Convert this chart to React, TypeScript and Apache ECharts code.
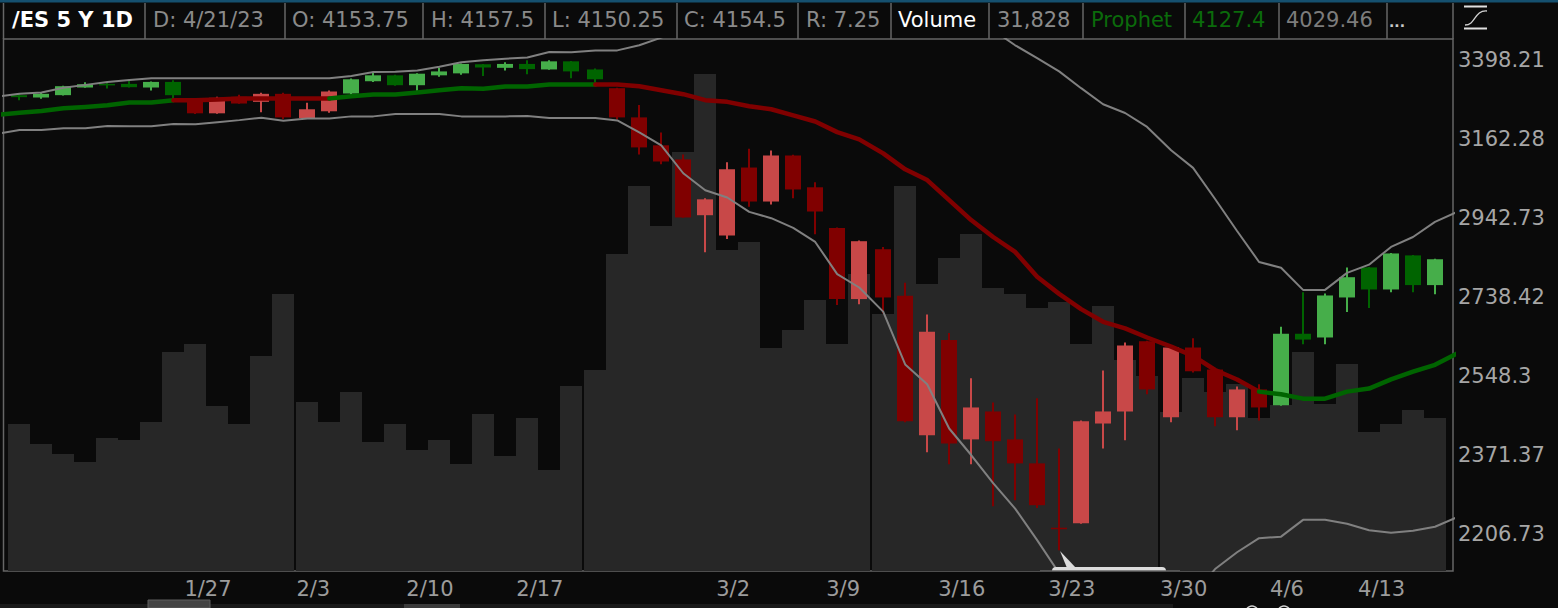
import React, { useEffect, useRef } from "react";
import * as echarts from "echarts";

// Daily candles (bar 0 = oldest)
const opens = [3292,3285,3292,3315,3326,3326,3315,3332,3277,3238,3287,3272,3296,3224,3244,3297,3334,3352,3322,3352,3358,3386,3375,3387,3370,3395,3370,3313,3226,3145,3105,2951,2897,3082,2988,3116,3027,2917,2734,2861,2742,2415,2634,2406,2468,2406,2354,2220,2229,2441,2468,2631,2455,2616,2564,2455,2518,2482,2649,2640,2738,2814,2758,2845,2769];
const closes = [3286,3296,3319,3325,3322,3316,3332,3292,3238,3284,3267,3296,3226,3250,3303,3340,3352,3322,3357,3364,3387,3376,3387,3371,3395,3364,3340,3226,3139,3099,2945,2994,3077,2988,3116,3021,2961,2734,2882,2738,2446,2654,2397,2477,2402,2354,2266,2217,2446,2468,2621,2518,2616,2560,2455,2518,2477,2649,2635,2743,2789,2758,2850,2769,2835];
const highs = [3298,3299,3320,3331,3332,3340,3333,3337,3281,3287,3293,3299,3299,3269,3306,3342,3363,3354,3358,3375,3388,3387,3392,3398,3398,3396,3373,3314,3263,3182,3119,2997,3097,3135,3130,3118,3041,2918,2884,2867,2775,2696,2651,2544,2488,2461,2498,2386,2448,2562,2628,2632,2622,2638,2565,2525,2530,2666,2751,2748,2814,2815,2851,2846,2836];
const lows = [3277,3281,3291,3314,3312,3315,3306,3280,3236,3237,3266,3241,3221,3223,3240,3293,3332,3320,3305,3348,3354,3350,3367,3355,3369,3343,3331,3220,3119,3091,2944,2853,2888,2974,2980,2997,2900,2719,2721,2699,2444,2378,2352,2352,2264,2276,2260,2175,2228,2386,2404,2507,2444,2557,2435,2426,2448,2481,2624,2624,2702,2712,2751,2751,2746];
const volumes = [29400,25400,23400,21800,26600,26200,29800,43800,45400,33000,29400,43000,55400,33800,29800,35800,25800,29400,24200,26200,21400,31400,23000,30600,20200,37000,40200,63400,77000,69000,83800,99400,64200,65800,44600,48200,54200,45400,59400,51400,77000,57400,62600,67400,56600,55400,52600,53800,45400,53000,42200,39000,31800,38600,35800,37400,30600,33200,43800,33400,41400,27800,29400,32200,30600];

// Indicator lines start one bar before the first candle and end one bar after the last
const upperBand = [3287,3296,3300,3314,3323,3332,3338,3343,3343,3343,3343,3343,3343,3343,3343,3343,3350,3362,3363,3367,3378,3392,3398,3403,3407,3424,3423,3429,3429,3445,3469,3499,3540,3572,3606,3640,3657,3675,3675,3675,3657,3624,3590,3557,3530,3493,3445,3405,3364,3313,3265,3239,3198,3131,3081,2995,2909,2828,2813,2757,2757,2800,2821,2867,2893,2933,2962];
const lowerBand = [3177,3189,3189,3194,3194,3201,3200,3200,3207,3206,3212,3218,3225,3216,3223,3223,3229,3229,3236,3236,3236,3229,3229,3229,3230,3224,3224,3224,3217,3182,3145,3066,3019,2999,2960,2943,2917,2880,2797,2763,2703,2576,2530,2430,2372,2312,2259,2195,2130,2098,2069,2056,2051,2056,2088,2138,2171,2199,2202,2236,2236,2228,2215,2210,2214,2222,2243];
const prophet = [3233,3240,3245,3253,3257,3262,3270,3270,3277,3277,3279,3282,3282,3282,3282,3282,3289,3294,3294,3300,3307,3313,3311,3318,3318,3324,3324,3324,3324,3319,3307,3295,3277,3272,3259,3250,3232,3214,3183,3162,3122,3077,3047,2992,2938,2893,2854,2790,2747,2709,2678,2662,2640,2618,2596,2563,2541,2513,2507,2497,2497,2513,2520,2541,2559,2575,2604];

// Bars at which the trend colour of the candles / Prophet line flips
const trendRanges: [number, number, string][] = [[-1,7,"up"],[7,14,"down"],[14,26,"up"],[26,56,"down"],[56,65,"up"]];

const xTickBars = [8,13,18,23,32,37,42,47,52,57,61];
const xTickLabels = ["1/27","2/3","2/10","2/17","3/2","3/9","3/16","3/23","3/30","4/6","4/13"];
const priceTicks = [3398.21,3162.28,2942.73,2738.42,2548.3,2371.37,2206.73];

const headerCells: [string, number, string, string][] = [
  ["/ES 5 Y 1D", 12, "#ffffff", "bold"],
  ["D: 4/21/23", 153, "#8a8a8a", "normal"],
  ["O: 4153.75", 292, "#8a8a8a", "normal"],
  ["H: 4157.5", 431, "#8a8a8a", "normal"],
  ["L: 4150.25", 552, "#8a8a8a", "normal"],
  ["C: 4154.5", 684, "#8a8a8a", "normal"],
  ["R: 7.25", 806, "#8a8a8a", "normal"],
  ["Volume", 898, "#ffffff", "normal"],
  ["31,828", 997, "#8a8a8a", "normal"],
  ["Prophet", 1091, "#0b6b0b", "normal"],
  ["4127.4", 1192, "#0b6b0b", "normal"],
  ["4029.46", 1286, "#7c7c7c", "normal"],
];
const headerDividers = [145,285,423,545,677,798,891,989,1083,1185,1279,1387];

const FONT = '"DejaVu Sans", sans-serif';
const BG = "#0a0a0a";
const LINE = "#666666";
const LIGHT_GREEN = "#46ae4a";
const DARK_GREEN = "#006400";
const LIGHT_RED = "#c84848";
const DARK_RED = "#800000";

// 13 bars per block with a small gap after each block
const xOf = (i: number) => i + Math.floor(i / 13) / 11;
const trendOf = (i: number) => {
  for (const [a, b, t] of trendRanges) if (i > a && i <= b) return t;
  return "up";
};
const LOG_BASE = Math.pow(10, 1 / 32);

function buildOption(): any {
  const candleData = opens.map((o, i) => [xOf(i), o, closes[i], lows[i], highs[i], i]);
  const volumeData = volumes.map((v, i) => [xOf(i), v]);
  const lineOf = (arr: number[]) => arr.map((v, k) => [xOf(k - 1), v]);
  const tickValues = xTickBars.map((b) => xOf(b) - 0.5);

  const prophetSeries = trendRanges.map(([a, b, t]) => ({
    type: "line",
    name: "Prophet " + t,
    xAxisIndex: 0,
    yAxisIndex: 0,
    data: lineOf(prophet).slice(a + 1, b + 2),
    showSymbol: false,
    silent: true,
    z: 6,
    lineStyle: { color: t === "up" ? DARK_GREEN : DARK_RED, width: 4.5, cap: "round", join: "round" },
  }));

  const bandSeries = [upperBand, lowerBand].map((arr, idx) => ({
    type: "line",
    name: idx === 0 ? "Upper band" : "Lower band",
    xAxisIndex: 0,
    yAxisIndex: 0,
    data: lineOf(arr),
    showSymbol: false,
    silent: true,
    z: 5,
    lineStyle: { color: "#808080", width: 2 },
  }));

  const graphic: any[] = [
    { type: "rect", shape: { x: 0, y: 0, width: 1558, height: 2.5 }, style: { fill: "#15506f" }, silent: true },
    { type: "line", shape: { x1: 3.5, y1: 3, x2: 3.5, y2: 39 }, style: { stroke: LINE, lineWidth: 1.5 }, silent: true },
    { type: "line", shape: { x1: 1453, y1: 3, x2: 1453, y2: 39 }, style: { stroke: LINE, lineWidth: 1.5 }, silent: true },
    ...headerDividers.map((x) => ({
      type: "line", shape: { x1: x, y1: 3, x2: x, y2: 39 }, style: { stroke: LINE, lineWidth: 1.5 }, silent: true,
    })),
    ...headerCells.map(([text, x, fill, fontWeight]) => ({
      type: "text", x, y: 20, silent: true,
      style: { text, fill, fontFamily: FONT, fontSize: 21, fontWeight, verticalAlign: "middle", align: "left" },
    })),
    { type: "text", x: 1389, y: 22, silent: true,
      style: { text: "...", fill: "#c8c8c8", fontFamily: FONT, fontSize: 14, fontWeight: "bold", verticalAlign: "middle", align: "left" } },
    // chart-type icon
    { type: "line", shape: { x1: 1464, y1: 6.5, x2: 1487, y2: 6.5 }, style: { stroke: "#e0e0e0", lineWidth: 2 }, silent: true },
    { type: "line", shape: { x1: 1464, y1: 28.5, x2: 1487, y2: 28.5 }, style: { stroke: "#e0e0e0", lineWidth: 2 }, silent: true },
    { type: "bezierCurve", shape: { x1: 1465, y1: 25, cpx1: 1476, cpy1: 25, cpx2: 1474, cpy2: 10, x2: 1487, y2: 11 }, style: { stroke: "#d0d0d0", lineWidth: 1.3, fill: "none" }, silent: true },
    // crosshair callout at the bottom of the plot
    { type: "rect", z: 20, shape: { x: 1052, y: 567, width: 114, height: 8, r: 4 }, style: { fill: "#dcdcdc" }, silent: true },
    { type: "polygon", z: 20, shape: { points: [[1060, 551], [1067, 568], [1076, 568]] }, style: { fill: "#dcdcdc" }, silent: true },
    { type: "rect", z: 21, shape: { x: 1040, y: 571, width: 140, height: 8 }, style: { fill: BG }, silent: true },
    { type: "line", z: 22, shape: { x1: 1040, y1: 571, x2: 1180, y2: 571 }, style: { stroke: LINE, lineWidth: 1.5 }, silent: true },
    // scroller strip
    { type: "rect", shape: { x: 0, y: 604, width: 1173, height: 4 }, style: { fill: "#1a1a1a" }, silent: true },
    { type: "rect", shape: { x: 148, y: 600, width: 62, height: 8 }, style: { fill: "#444444", stroke: "#5e5e5e", lineWidth: 1 }, silent: true },
    { type: "rect", shape: { x: 404, y: 604, width: 56, height: 4 }, style: { fill: "#3a3a3a" }, silent: true },
    { type: "circle", shape: { cx: 1252, cy: 612, r: 6 }, style: { fill: "none", stroke: "#d0d0d0", lineWidth: 1.5 }, silent: true },
    { type: "circle", shape: { cx: 1284, cy: 612, r: 6 }, style: { fill: "none", stroke: "#d0d0d0", lineWidth: 1.5 }, silent: true },
  ];

  return {
    animation: false,
    backgroundColor: BG,
    textStyle: { fontFamily: FONT },
    grid: { left: 3.5, right: 105, top: 39, bottom: 37, show: true, borderColor: LINE, borderWidth: 1.5, backgroundColor: "transparent" },
    xAxis: {
      type: "value",
      min: -16 / 22,
      max: 1434 / 22,
      axisLine: { show: false },
      axisTick: { show: false },
      splitLine: { show: false },
      axisLabel: {
        show: true,
        customValues: tickValues,
        align: "left",
        margin: 7,
        color: "#9c9c9c",
        fontSize: 21,
        fontFamily: FONT,
        hideOverlap: false,
        formatter: (v: number) => {
          let best = 0;
          tickValues.forEach((t, k) => { if (Math.abs(t - v) < Math.abs(tickValues[best] - v)) best = k; });
          return xTickLabels[best];
        },
      },
    },
    yAxis: [
      {
        type: "log",
        logBase: LOG_BASE,
        position: "right",
        min: 3398.21 * Math.pow(LOG_BASE, -(571 - 60.3) / 79),
        max: 3398.21 * Math.pow(LOG_BASE, (60.3 - 39) / 79),
        axisLine: { show: false },
        axisTick: { show: false },
        splitLine: { show: false },
        axisLabel: {
          show: true,
          customValues: priceTicks,
          margin: 5,
          align: "left",
          color: "#a6a6a6",
          fontSize: 21,
          fontFamily: FONT,
          formatter: (v: number) => {
            let best = priceTicks[0];
            priceTicks.forEach((t) => { if (Math.abs(t - v) < Math.abs(best - v)) best = t; });
            return String(best);
          },
        },
      },
      { type: "value", min: 0, max: 106400, show: false },
    ],
    series: [
      {
        type: "custom",
        name: "Volume",
        xAxisIndex: 0,
        yAxisIndex: 1,
        clip: true,
        silent: true,
        z: 1,
        data: volumeData,
        encode: { x: 0, y: 1 },
        renderItem: (_p: any, api: any) => {
          const x = api.value(0);
          const a = api.coord([x - 0.5, api.value(1)]);
          const b = api.coord([x + 0.5, 0]);
          const left = Math.round(a[0]);
          const right = Math.round(b[0]);
          return { type: "rect", shape: { x: left, y: Math.round(a[1]), width: right - left, height: b[1] - Math.round(a[1]) }, style: { fill: "#272727" } };
        },
      },
      {
        type: "custom",
        name: "/ES",
        xAxisIndex: 0,
        yAxisIndex: 0,
        clip: true,
        silent: true,
        z: 3,
        data: candleData,
        encode: { x: 0, y: [1, 2, 3, 4] },
        renderItem: (_p: any, api: any) => {
          const x = api.value(0);
          const o = api.value(1);
          const c = api.value(2);
          const i = api.value(5);
          const up = trendOf(i) === "up";
          const rising = c >= o;
          const color = up ? (rising ? LIGHT_GREEN : DARK_GREEN) : rising ? LIGHT_RED : DARK_RED;
          const half = 8 / 22;
          const top = api.coord([x - half, Math.max(o, c)]);
          const bot = api.coord([x + half, Math.min(o, c)]);
          const hi = api.coord([x, api.value(4)]);
          const lo = api.coord([x, api.value(3)]);
          const mid = Math.round(hi[0]);
          return {
            type: "group",
            children: [
              { type: "line", shape: { x1: mid, y1: hi[1], x2: mid, y2: lo[1] }, style: { stroke: color, lineWidth: 2 } },
              { type: "rect", shape: { x: mid - 8, y: top[1], width: 16, height: Math.max(bot[1] - top[1], 1.5) }, style: { fill: color } },
            ],
          };
        },
      },
      ...bandSeries,
      ...prophetSeries,
    ],
    graphic,
  };
}

export default function App() {
  const ref = useRef<HTMLDivElement>(null);
  useEffect(() => {
    document.body.style.margin = "0";
    document.body.style.background = BG;
    const chart = echarts.init(ref.current!, undefined, { renderer: "svg" });
    chart.setOption(buildOption());
    return () => chart.dispose();
  }, []);
  return <div ref={ref} style={{ width: 1558, height: 608 }} />;
}
